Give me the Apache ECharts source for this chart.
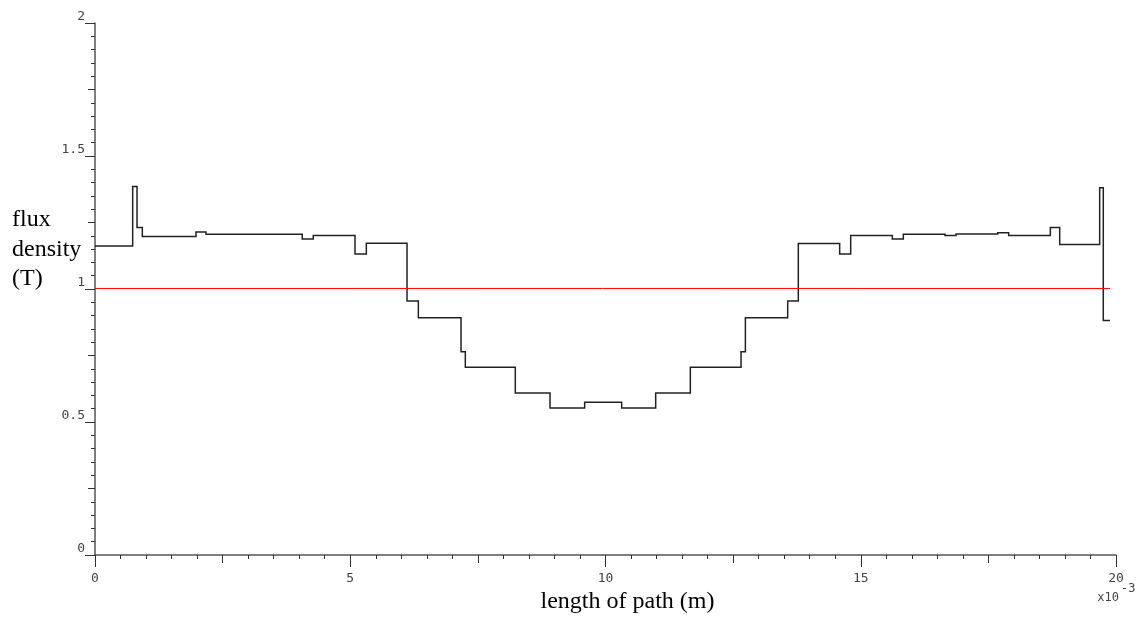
<!DOCTYPE html>
<html>
<head>
<meta charset="utf-8">
<title>flux density</title>
<script src="https://cdn.jsdelivr.net/npm/echarts@6/dist/echarts.min.js"></script>
<style>
  html, body { margin: 0; padding: 0; background: #fff; }
  #chart { width: 1139px; height: 619px; }
</style>
</head>
<body>
<div id="chart"></div>
<script>
// step start positions (x10^-3 m) and flux density (T) of each step
var pathPos = [0, 0.738, 0.823, 0.927, 1.978, 2.174, 4.06, 4.276, 5.093, 5.315,
  6.112, 6.334, 7.17, 7.254, 8.233, 8.913, 9.592, 10.317, 10.983, 11.662,
  12.655, 12.74, 13.569, 13.777, 14.587, 14.803, 15.618, 15.834, 16.65, 16.866,
  17.683, 17.898, 18.714, 18.897, 19.68, 19.751, 19.883];
var fluxVal = [1.162, 1.385, 1.231, 1.197, 1.214, 1.206, 1.188, 1.201, 1.132, 1.172,
  0.955, 0.892, 0.764, 0.706, 0.609, 0.553, 0.574, 0.553, 0.609, 0.706,
  0.764, 0.892, 0.955, 1.171, 1.132, 1.201, 1.188, 1.206, 1.201, 1.207,
  1.211, 1.201, 1.231, 1.167, 1.381, 0.882, 0.882];
// red reference level
var refPos = [0, 19.883];
var refVal = [1.002, 1.002];
// tick labels
var xTicks = [0, 5, 10, 15, 20];
var yTicks = [0, 0.5, 1, 1.5, 2];

var chart = echarts.init(document.getElementById('chart'));

// corner points of the staircase (the line series drops tiny steps, so use a polyline)
var stepCoords = [];
for (var i = 0; i < pathPos.length - 1; i++) {
  stepCoords.push([pathPos[i], fluxVal[i]]);
  stepCoords.push([pathPos[i + 1], fluxVal[i]]);
}
var refData = refPos.map(function (x, i) { return [x, refVal[i]]; });

var labelFont = 'DejaVu Sans Mono';
var titleFont = 'Liberation Serif';

var option = {
  animation: false,
  grid: { left: 95, right: 23, top: 23, bottom: 64 },
  xAxis: [{
    type: 'value',
    min: xTicks[0],
    max: xTicks[xTicks.length - 1],
    interval: xTicks[1] - xTicks[0],
    axisLine: { onZero: false, lineStyle: { color: '#555', width: 1.5 } },
    axisTick: { length: 12, lineStyle: { color: '#333' } },
    minorTick: { show: true, splitNumber: 10, length: 4, lineStyle: { color: '#333' } },
    splitLine: { show: false },
    axisLabel: {
      margin: 17,
      fontFamily: labelFont, fontSize: 13, color: '#444',
      formatter: function (v) { return String(v); }
    }
  }, {
    // medium ticks half way between labels
    type: 'value',
    position: 'bottom',
    min: xTicks[0],
    max: xTicks[xTicks.length - 1],
    interval: (xTicks[1] - xTicks[0]) / 2,
    axisLine: { show: false },
    axisTick: { length: 8, lineStyle: { color: '#333' } },
    splitLine: { show: false },
    axisLabel: { show: false }
  }],
  yAxis: [{
    type: 'value',
    min: yTicks[0],
    max: yTicks[yTicks.length - 1],
    interval: yTicks[1] - yTicks[0],
    axisLine: { onZero: false, lineStyle: { color: '#555', width: 1.5 } },
    axisTick: { length: 10, lineStyle: { color: '#333' } },
    minorTick: { show: true, splitNumber: 10, length: 4, lineStyle: { color: '#333' } },
    splitLine: { show: false },
    axisLabel: {
      margin: 10,
      verticalAlign: 'bottom',
      lineHeight: 13,
      fontFamily: labelFont, fontSize: 13, color: '#444',
      formatter: function (v) { return String(v); }
    }
  }, {
    type: 'value',
    position: 'left',
    min: yTicks[0],
    max: yTicks[yTicks.length - 1],
    interval: (yTicks[1] - yTicks[0]) / 2,
    axisLine: { show: false },
    axisTick: { length: 7, lineStyle: { color: '#333' } },
    splitLine: { show: false },
    axisLabel: { show: false }
  }],
  graphic: [{
    type: 'text',
    left: 12, top: 205,
    style: {
      text: 'flux\ndensity\n(T)',
      font: '24px "' + titleFont + '"',
      lineHeight: 29.5,
      fill: '#000'
    }
  }, {
    type: 'text',
    x: 627.5, y: 587,
    style: {
      text: 'length of path (m)',
      font: '24px "' + titleFont + '"',
      lineHeight: 29.5,
      align: 'center',
      fill: '#000'
    }
  }, {
    type: 'text',
    x: 1119, y: 598,
    style: {
      text: 'x10',
      font: '12px "' + labelFont + '"',
      align: 'right', verticalAlign: 'middle',
      fill: '#444'
    }
  }, {
    type: 'text',
    x: 1121, y: 589,
    style: {
      text: '-3',
      font: '12px "' + labelFont + '"',
      align: 'left', verticalAlign: 'middle',
      fill: '#444'
    }
  }],
  series: [{
    name: 'flux density',
    type: 'lines',
    coordinateSystem: 'cartesian2d',
    polyline: true,
    silent: true,
    lineStyle: { color: '#222', width: 1.5, opacity: 1 },
    data: [{ coords: stepCoords }],
    z: 2
  }, {
    name: 'reference',
    type: 'line',
    symbol: 'none',
    lineStyle: { color: '#ff0000', width: 1 },
    data: refData,
    z: 3
  }]
};
chart.setOption(option, true);
</script>
</body>
</html>
